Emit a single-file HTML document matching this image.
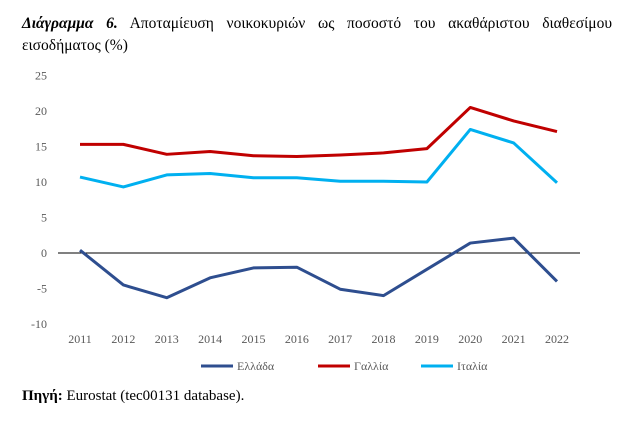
<!DOCTYPE html>
<html><head><meta charset="utf-8"><style>
body{margin:0;background:#fff;width:624px;height:423px;overflow:hidden;font-family:"Liberation Serif",serif;}
#t{position:absolute;left:22px;top:13px;width:590px;font-size:15.5px;line-height:22px;text-align:justify;color:#000;}
#s{position:absolute;left:22px;top:388px;font-size:15px;color:#000;}
svg{position:absolute;left:0;top:0;}
</style></head><body>
<div id="t"><b><i>Διάγραμμα 6.</i></b> Αποταμίευση νοικοκυριών ως ποσοστό του ακαθάριστου διαθεσίμου εισοδήματος (%)</div>
<svg id="c" width="624" height="423"></svg>
<div id="s"><b>Πηγή:</b> Eurostat (tec00131 database).</div>
<script>
const years=["2011","2012","2013","2014","2015","2016","2017","2018","2019","2020","2021","2022"];
const greece=[0.4,-4.5,-6.3,-3.5,-2.1,-2.0,-5.1,-6.0,-2.3,1.4,2.1,-4.0];
const france=[15.3,15.3,13.9,14.3,13.7,13.6,13.8,14.1,14.7,20.5,18.6,17.1];
const italy=[10.7,9.3,11.0,11.2,10.6,10.6,10.1,10.1,10.0,17.4,15.5,9.9];
const yTicks=[25,20,15,10,5,0,-5,-10];
const NS="http://www.w3.org/2000/svg";
const svg=document.getElementById('c');
const x=i=>80+i*(557-80)/11;
const y=v=>253-v*7.1;
function mk(t,a){const e=document.createElementNS(NS,t);for(const k in a)e.setAttribute(k,a[k]);svg.appendChild(e);return e;}
yTicks.forEach(v=>{const e=mk('text',{x:47,y:y(v)+4,'text-anchor':'end','font-size':'12','font-family':'Liberation Serif, serif',fill:'#595959'});e.textContent=v;

});
years.forEach((yr,i)=>{const e=mk('text',{x:x(i),y:343,'text-anchor':'middle','font-size':'12','font-family':'Liberation Serif, serif',fill:'#595959'});e.textContent=yr;

});
const z=mk('line',{x1:58,x2:580,y1:y(0),y2:y(0),stroke:'#000','stroke-width':1});


const series=[[greece,'#2e4e8f','greece-line'],[france,'#c00000','france-line'],[italy,'#00b0f0','italy-line']];
series.forEach(([d,c,n])=>{const p=mk('polyline',{points:d.map((v,i)=>x(i)+','+y(v)).join(' '),fill:'none',stroke:c,'stroke-width':3,'stroke-linejoin':'round'});

});
const leg=[['Ελλάδα','#2e4e8f',201],['Γαλλία','#c00000',318],['Ιταλία','#00b0f0',421]];
leg.forEach(([t,c,lx])=>{const g=mk('g',{});


const l=document.createElementNS(NS,'line');l.setAttribute('x1',lx);l.setAttribute('x2',lx+32);l.setAttribute('y1',366);l.setAttribute('y2',366);l.setAttribute('stroke',c);l.setAttribute('stroke-width',3);g.appendChild(l);
const tx=document.createElementNS(NS,'text');tx.setAttribute('x',lx+36);tx.setAttribute('y',370);tx.setAttribute('font-size','12');tx.setAttribute('font-family','Liberation Serif, serif');tx.setAttribute('fill','#595959');tx.textContent=t;g.appendChild(tx);});
</script>
</body></html>
